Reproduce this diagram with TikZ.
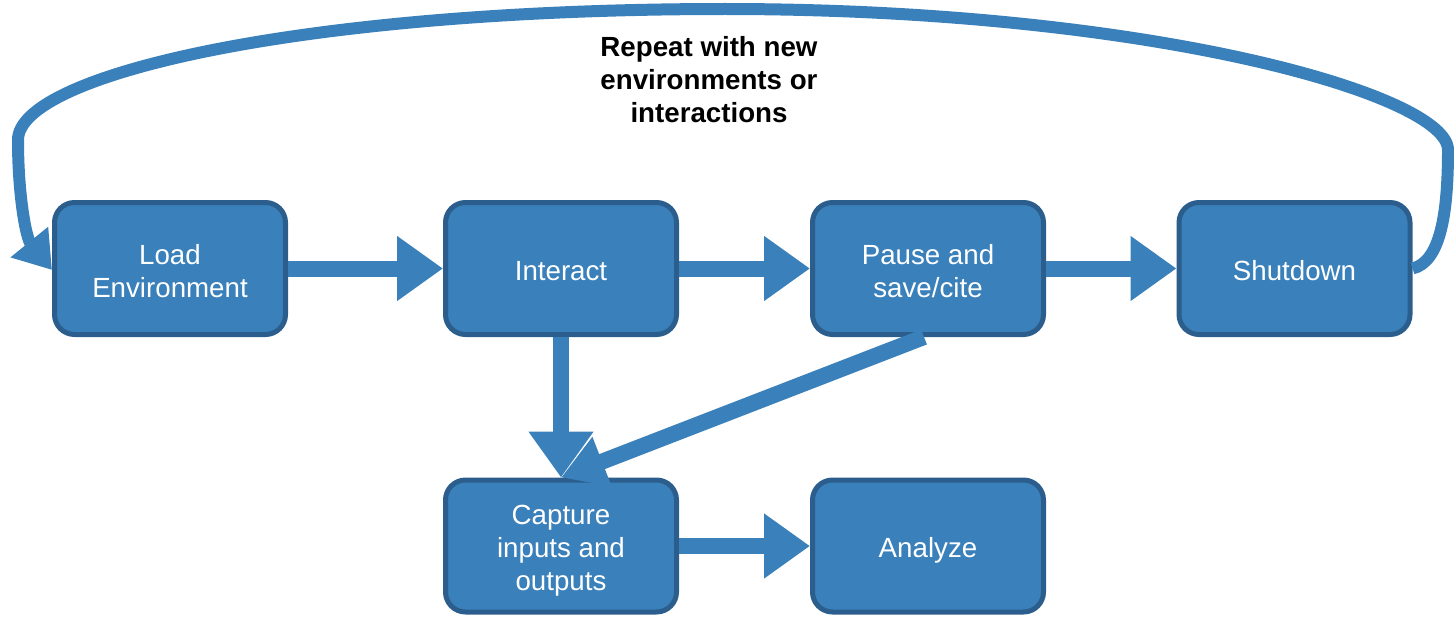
\documentclass[tikz,border=0pt]{standalone}
\usepackage{fontspec}
\setmainfont{Liberation Sans}
\usetikzlibrary{arrows.meta}
\definecolor{boxfill}{HTML}{3A80BA}
\definecolor{boxline}{HTML}{2B5E8C}
\definecolor{flow}{HTML}{3A80BA}
\begin{document}
\begin{tikzpicture}[x=1pt,y=-1pt,
  stage/.style={draw=boxline, fill=boxfill, line width=5pt, rounded corners=20pt,
    minimum width=231pt, minimum height=132pt, inner sep=0pt},
  stagetext/.style={align=center, text=white, inner sep=0pt,
    font=\fontsize{27.7}{33}\selectfont},
  blockarrow/.style={draw=flow, line width=16pt,
    -{Triangle[length=46pt,width=62pt]}},
  loop/.style={draw=flow, line width=12pt,
    -{Triangle[length=36pt,width=46pt]}}]
\useasboundingbox (0,0) rectangle (1454,618);

% process stages
\node[stage, label={[stagetext, yshift=-2.5pt]center:{Load\\Environment}}] (load) at (170,268.5) {};
\node[stage, label={[stagetext, yshift=-2.5pt]center:{Interact}}] (inter) at (561,268.5) {};
\node[stage, label={[stagetext, yshift=-2.5pt]center:{Pause and\\save/cite}}] (pause) at (928,268.5) {};
\node[stage, label={[stagetext, yshift=-2.5pt]center:{Shutdown}}] (shut) at (1294.5,268.5) {};
\node[stage, label={[stagetext, yshift=-4.5pt]center:{Capture\\inputs and\\outputs}}] (capt) at (561,546) {};
\node[stage, label={[stagetext, yshift=-4.5pt]center:{Analyze}}] (anal) at (928,546) {};

% main flow
\draw[blockarrow] (load.east)  -- (inter.west);
\draw[blockarrow] (inter.east) -- (pause.west);
\draw[blockarrow] (pause.east) -- (shut.west);
\draw[blockarrow] (capt.east)  -- (anal.west);
\draw[blockarrow] (inter.south) -- (capt.north);
\draw[draw=flow, line width=16pt, -{Triangle[length=44pt,width=50pt]}]
  ([xshift=-4pt]pause.south) -- (capt.north);

% loop back to the start
\draw[loop] (shut.east) .. controls (1440,262) and (1448,215) .. (1448,150)
  .. controls (1448,95) and (1150,9) .. (725,9)
  .. controls (300,9) and (18,75) .. (18,140)
  .. controls (18,195) and (26,238) .. ([yshift=-1.5pt]load.west);
\node[font=\bfseries\fontsize{27.7}{33}\selectfont, align=center] (rep) at (709,79.5)
  {Repeat with new\\environments or\\interactions};
\end{tikzpicture}
\end{document}
